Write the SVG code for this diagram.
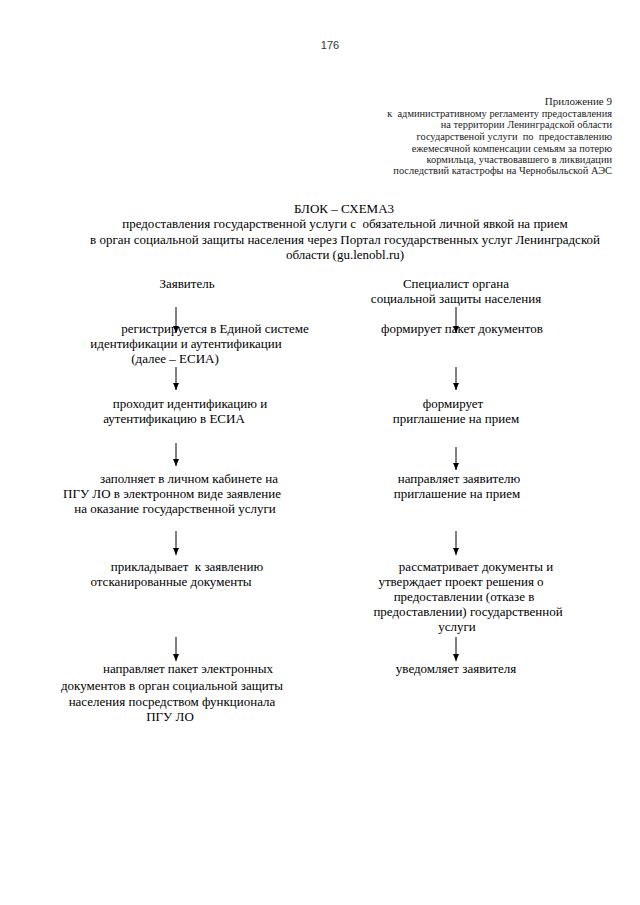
<svg xmlns="http://www.w3.org/2000/svg" width="640" height="905" viewBox="0 0 640 905">
<style>
text{font-family:"Liberation Serif","Times New Roman",serif;fill:#000;white-space:pre;}
.t{font-size:13px;text-anchor:middle;}
.a{font-size:10.4px;text-anchor:end;fill:#222;}
.conn line{stroke:#000;stroke-width:1;}
</style>
<defs>
<marker id="ah" markerWidth="8" markerHeight="8" refX="7" refY="3" orient="auto" markerUnits="userSpaceOnUse">
<path d="M0,0 L7,3 L0,6 Z" fill="#000"/>
</marker>
</defs>
<rect width="640" height="905" fill="#fff"/>
<text x="330" y="49" style="font-family:'Liberation Sans',Arial,sans-serif;font-size:11px;text-anchor:middle;fill:#333">176</text>
<g id="appendix">
<text class="a" x="612" y="105" style="font-size:11px">Приложение 9</text>
<text class="a" x="612" y="117">к  административному регламенту предоставления</text>
<text class="a" x="612" y="128">на территории Ленинградской области</text>
<text class="a" x="612" y="140">государственой услуги  по  предоставлению</text>
<text class="a" x="612" y="152">ежемесячной компенсации семьям за потерю</text>
<text class="a" x="612" y="163">кормильца, участвовавшего в ликвидации</text>
<text class="a" x="612" y="174">последствий катастрофы на Чернобыльской АЭС</text>
</g>
<g id="title">
<text class="t" x="344" y="213">БЛОК – СХЕМА3</text>
<text class="t" x="345" y="228">предоставления государственной услуги с  обязательной личной явкой на прием</text>
<text class="t" x="345" y="244">в орган социальной защиты населения через Портал государственных услуг Ленинградской</text>
<text class="t" x="345" y="259">области (gu.lenobl.ru)</text>
</g>
<g id="applicant">
<text class="t" x="187" y="288">Заявитель</text>
</g>
<g id="specialist">
<text class="t" x="456" y="288">Специалист органа</text>
<text class="t" x="456" y="303">социальной защиты населения</text>
</g>
<g id="l1">
<text class="t" x="215" y="333">регистрируется в Единой системе</text>
<text class="t" x="186" y="348">идентификации и аутентификации</text>
<text class="t" x="175" y="363">(далее – ЕСИА)</text>
</g>
<g id="l2">
<text class="t" x="190" y="408">проходит идентификацию и</text>
<text class="t" x="174" y="423">аутентификацию в ЕСИА</text>
</g>
<g id="l3">
<text class="t" x="189" y="483">заполняет в личном кабинете на</text>
<text class="t" x="172" y="498">ПГУ ЛО в электронном виде заявление</text>
<text class="t" x="175" y="513">на оказание государственной услуги</text>
</g>
<g id="l4">
<text class="t" x="187" y="571">прикладывает  к заявлению</text>
<text class="t" x="171" y="586">отсканированные документы</text>
</g>
<g id="l5">
<text class="t" x="188" y="673">направляет пакет электронных</text>
<text class="t" x="172" y="690">документов в орган социальной защиты</text>
<text class="t" x="172" y="706">населения посредством функционала</text>
<text class="t" x="170" y="721">ПГУ ЛО</text>
</g>
<g id="r1">
<text class="t" x="462" y="333">формирует пакет документов</text>
</g>
<g id="r2">
<text class="t" x="453" y="408">формирует</text>
<text class="t" x="456" y="423">приглашение на прием</text>
</g>
<g id="r3">
<text class="t" x="459" y="483">направляет заявителю</text>
<text class="t" x="457" y="498">приглашение на прием</text>
</g>
<g id="r4">
<text class="t" x="476" y="571">рассматривает документы и</text>
<text class="t" x="461" y="586">утверждает проект решения о</text>
<text class="t" x="464" y="601">предоставлении (отказе в</text>
<text class="t" x="468" y="616">предоставлении) государственной</text>
<text class="t" x="457" y="631">услуги</text>
</g>
<g id="r5">
<text class="t" x="456" y="673">уведомляет заявителя</text>
</g>
<g class="conn" id="connectors">
<line x1="176" y1="307" x2="176" y2="333" marker-end="url(#ah)"/>
<line x1="176" y1="367" x2="176" y2="390" marker-end="url(#ah)"/>
<line x1="176" y1="443" x2="176" y2="466" marker-end="url(#ah)"/>
<line x1="176" y1="531" x2="176" y2="555" marker-end="url(#ah)"/>
<line x1="176" y1="637" x2="176" y2="661" marker-end="url(#ah)"/>
<line x1="456" y1="307" x2="456" y2="333" marker-end="url(#ah)"/>
<line x1="456" y1="367" x2="456" y2="390" marker-end="url(#ah)"/>
<line x1="456" y1="447" x2="456" y2="470" marker-end="url(#ah)"/>
<line x1="456" y1="531" x2="456" y2="555" marker-end="url(#ah)"/>
<line x1="456" y1="637" x2="456" y2="661" marker-end="url(#ah)"/>
</g>
</svg>
